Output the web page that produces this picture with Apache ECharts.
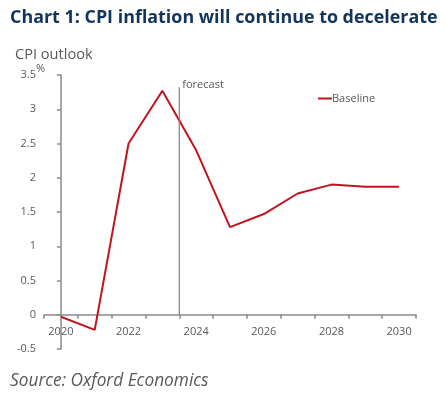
<!DOCTYPE html>
<html><head><meta charset="utf-8">
<script src="https://cdn.jsdelivr.net/npm/echarts@6/dist/echarts.min.js"></script>
<style>html,body{margin:0;padding:0;background:#fff}#c{width:446px;height:397px}</style>
</head><body><div id="c"></div>
<script>
const years = ['2020','2021','2022','2023','2024','2025','2026','2027','2028','2029','2030'];
const baseline = [-0.03, -0.22, 2.50, 3.27, 2.40, 1.28, 1.47, 1.77, 1.90, 1.87, 1.87];
const forecastPos = 3.5; // between 2023 and 2024 (category index units)
const forecastTop = 3.32;
const yTicks = {min: -0.5, max: 3.5, interval: 0.5};

const gray = '#8a8a8a';
const txt = '#595959';
const chart = echarts.init(document.getElementById('c'));
chart.setOption({
  animation: false,
  textStyle: {fontFamily: 'Open Sans'},
  title: [
    {text: 'Chart 1: CPI inflation will continue to decelerate', left: 5, top: 4,
     textStyle: {fontFamily: 'Open Sans', fontWeight: 'bold', fontSize: 17.9, color: '#12355b'}},
    {text: 'CPI outlook', left: 10, top: 42,
     textStyle: {fontFamily: 'Open Sans', fontWeight: 'normal', fontSize: 14.6, color: txt}},
    {text: '%', left: 31, top: 58,
     textStyle: {fontFamily: 'Open Sans', fontWeight: 'normal', fontSize: 11, color: txt}},
    {text: 'Source: Oxford Economics', left: 5, top: 368,
     textStyle: {fontFamily: 'Open Sans', fontStyle: 'italic', fontWeight: 'normal', fontSize: 17.3, color: txt}}
  ],
  legend: {
    data: ['Baseline'], left: 313, top: 88, icon: 'rect', itemWidth: 14, itemHeight: 2,
    itemGap: 0, textStyle: {fontSize: 11, color: txt, padding: [0, 0, 0, -5]}
  },
  grid: {left: 44, right: 30, top: 75, bottom: 48},
  xAxis: [{
    type: 'category', data: years, boundaryGap: true,
    axisLine: {onZero: true, lineStyle: {color: gray, width: 1.5}},
    axisTick: {show: true, interval: 0, length: 4, lineStyle: {color: gray, width: 1.5}},
    axisLabel: {interval: 1, color: txt, fontSize: 11, margin: -23}
  }, {
    type: 'value', min: -0.5, max: 10.5, show: false
  }],
  yAxis: {
    type: 'value', min: yTicks.min, max: yTicks.max, interval: yTicks.interval,
    axisLine: {show: true, lineStyle: {color: gray, width: 1.5}},
    axisTick: {show: true, length: 4, lineStyle: {color: gray, width: 1.5}},
    axisLabel: {color: txt, fontSize: 11, margin: 8},
    splitLine: {show: false}
  },
  series: [{
    name: 'Baseline', type: 'line', data: baseline, symbol: 'none',
    lineStyle: {color: '#c0151f', width: 2}, itemStyle: {color: '#c0151f'}
  }, {
    name: 'forecast', type: 'line', xAxisIndex: 1, symbol: 'none',
    data: [[forecastPos, 0], [forecastPos, forecastTop]],
    lineStyle: {color: '#7f7f7f', width: 1.2}, silent: true,
    label: {show: false},
    endLabel: {show: true, formatter: 'forecast', color: txt, fontSize: 11, offset: [-5, -2]}
  }]
});
</script></body></html>
